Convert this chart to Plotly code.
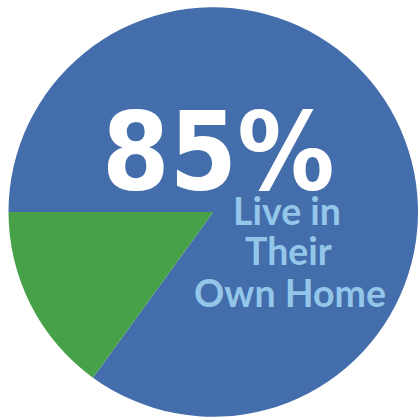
import plotly.graph_objects as go

labels = ["Live in Their Own Home", "Other"]
values = [85, 15]
colors = ["#446DAB", "#47A149"]
headline = "85%"
caption_lines = ["Live in", "Their", "Own Home"]

W, H = 418, 417

fig = go.Figure(go.Pie(
    labels=labels,
    values=values,
    marker=dict(colors=colors, line=dict(width=0)),
    sort=False,
    direction="clockwise",
    rotation=270,
    textinfo="none",
    hoverinfo="skip",
    showlegend=False,
    domain=dict(x=[8.5 / W, 1.0], y=[0.0, 1 - 7 / H]),
))

def px_x(p):
    return p / W

def px_y(p):
    return 1 - p / H

anns = [dict(text=f"<b>{headline}</b>", x=px_x(218.5), y=px_y(151.5), xref="paper", yref="paper",
             xanchor="center", yanchor="middle", showarrow=False,
             font=dict(family="DejaVu Sans Condensed, DejaVu Sans", size=108, color="white"))]
xs = [287, 288, 290]
ys = [210.5, 250, 292.5]
for line, xx, yy in zip(caption_lines, xs, ys):
    anns.append(dict(text=f"<b>{line}</b>", x=px_x(xx), y=px_y(yy), xref="paper", yref="paper",
                     xanchor="center", yanchor="middle", showarrow=False,
                     font=dict(family="Lato", size=37.5, color="#93C6E9")))

fig.update_layout(
    width=W, height=H,
    margin=dict(l=0, r=0, t=0, b=0),
    paper_bgcolor="white",
    plot_bgcolor="white",
    annotations=anns,
)
fig.write_html(
    "out.html",
    config={"displayModeBar": False, "staticPlot": True},
    post_script="document.body.style.margin='0';document.body.style.overflow='hidden';",
)
